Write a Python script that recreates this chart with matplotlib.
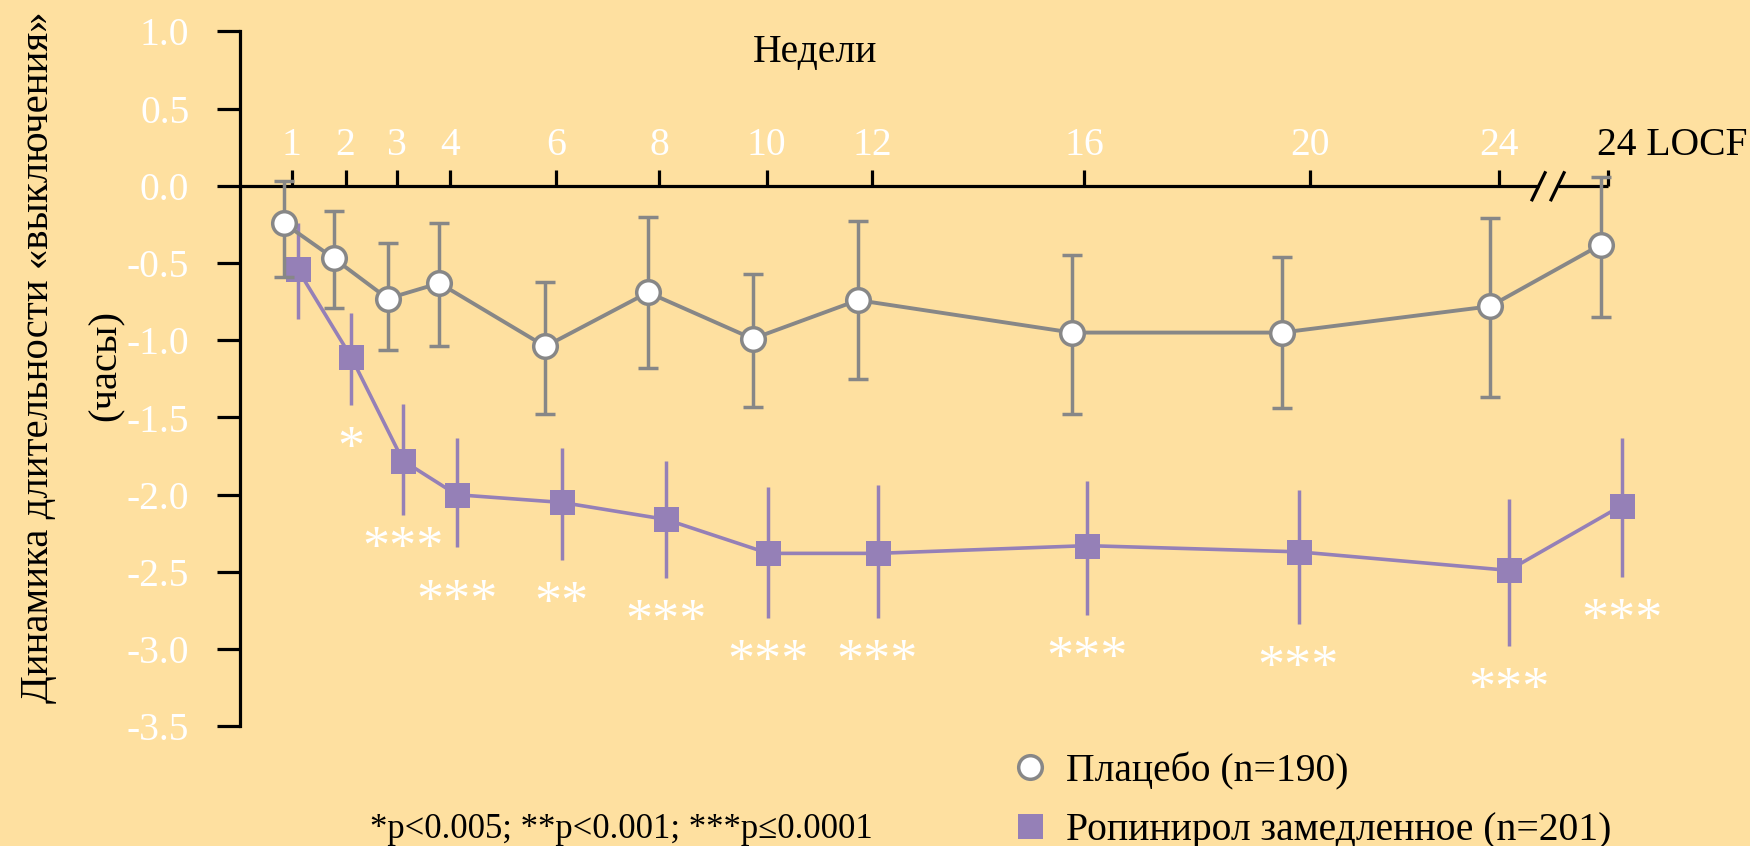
import numpy as np
import matplotlib
matplotlib.use("Agg")
import matplotlib.pyplot as plt
from matplotlib.lines import Line2D

# ---------------- data ----------------
week_labels = ['1', '2', '3', '4', '6', '8', '10', '12', '16', '20', '24', '24 LOCF']
# positions of the week ticks along the (non-linear) x axis
tick_pos = [291.6, 345.6, 396.9, 449.7, 555.7, 659, 766.5, 872, 1084, 1310, 1499, 1608]

placebo_x = [283.6, 334, 387.7, 439.3, 545.3, 648, 752.7, 858, 1072, 1281.7, 1490, 1601]
placebo_mean = [-0.24, -0.47, -0.73, -0.63, -1.04, -0.69, -0.99, -0.74, -0.95, -0.95, -0.78, -0.38]
placebo_hi = [0.03, -0.16, -0.37, -0.24, -0.62, -0.20, -0.57, -0.23, -0.45, -0.46, -0.21, 0.06]
placebo_lo = [-0.59, -0.79, -1.06, -1.04, -1.48, -1.18, -1.43, -1.25, -1.48, -1.44, -1.37, -0.85]

rop_x = [297.7, 351.3, 403, 456.6, 561.8, 665.8, 768.4, 877.5, 1087, 1298.5, 1508.6, 1621.9]
rop_mean = [-0.54, -1.11, -1.78, -2.00, -2.05, -2.16, -2.38, -2.38, -2.33, -2.37, -2.49, -2.07]
rop_hi = [-0.24, -0.82, -1.41, -1.63, -1.70, -1.78, -1.95, -1.94, -1.91, -1.97, -2.03, -1.63]
rop_lo = [-0.86, -1.42, -2.13, -2.34, -2.42, -2.54, -2.80, -2.80, -2.78, -2.84, -2.98, -2.53]
signif = ['', '*', '***', '***', '**', '***', '***', '***', '***', '***', '***', '***']

y_ticks = [1.0, 0.5, 0.0, -0.5, -1.0, -1.5, -2.0, -2.5, -3.0, -3.5]

placebo_label = 'Плацебо (n=190)'
rop_label = 'Ропинирол замедленное (n=201)'
ylabel_1 = 'Динамика длительности «выключения»'
ylabel_2 = '(часы)'
xlabel = 'Недели'
footnote = '*p<0.005; **p<0.001; ***p≤0.0001'

# ---------------- style ----------------
BG = '#FEE0A0'
GREY = '#878787'
PURPLE = '#9580B7'
plt.rcParams['font.family'] = ['Liberation Serif', 'DejaVu Serif']
plt.rcParams['axes.unicode_minus'] = False

W, H = 1750, 846
DPI = 100
fig = plt.figure(figsize=(W / DPI, H / DPI), dpi=DPI, facecolor=BG)
ax = fig.add_axes([0, 0, 1, 1])
ax.set_facecolor(BG)
ax.set_xlim(0, W)
ax.set_ylim((185.9 - H) / 154.4, 185.9 / 154.4)

# y axis
for s in ['right', 'bottom']:
    ax.spines[s].set_visible(False)
ax.spines['left'].set_position(('data', 240))
ax.spines['left'].set_bounds(min(y_ticks), max(y_ticks))
ax.spines['left'].set_linewidth(2.3)
ax.set_yticks(y_ticks)
ax.set_yticklabels([f'{v:.1f}' for v in y_ticks])
ax.tick_params(axis='y', direction='out', length=16.5, width=2.3, pad=20,
               labelsize=28.5, labelcolor='white', color='black')

# x axis on y=0, ticks and labels above
ax.spines['top'].set_position(('data', 0))
ax.spines['top'].set_color('none')
ax.xaxis.set_ticks_position('top')
ax.set_xticks(tick_pos)
ax.set_xticklabels(week_labels[:-1] + [''])
ax.tick_params(axis='x', which='both', bottom=False, top=True, labelbottom=False,
               labeltop=True, direction='out', length=11.5, width=2.3, pad=4,
               labelsize=28.5, labelcolor='white', color='black')

# axis line with a break between week 24 and LOCF
brk = tick_pos[-2] + 0.45 * (tick_pos[-1] - tick_pos[-2])
gap = 9.5
ax.plot([240, brk - gap], [0, 0], color='black', lw=2.3, solid_capstyle='butt', zorder=2)
ax.plot([brk + gap, tick_pos[-1]], [0, 0], color='black', lw=2.3, solid_capstyle='butt', zorder=2)
for c in (brk - gap, brk + gap):
    ax.plot([c - 6.5, c + 6.5], [-0.09, 0.085], color='black', lw=2.3, zorder=2)

ax.annotate(week_labels[-1], xy=(tick_pos[-1], 0), xytext=(-8, 22),
            textcoords='offset points', ha='left', va='baseline',
            fontsize=28.5, color='black')

# series
rop_err = [np.array(rop_mean) - np.array(rop_lo), np.array(rop_hi) - np.array(rop_mean)]
ax.errorbar(rop_x, rop_mean, yerr=rop_err, fmt='-s', color=PURPLE, ms=18,
            mfc=PURPLE, mec=PURPLE, mew=0, lw=2.6, elinewidth=2.5,
            capsize=7, capthick=2.5, zorder=3)
pl_err = [np.array(placebo_mean) - np.array(placebo_lo), np.array(placebo_hi) - np.array(placebo_mean)]
ax.errorbar(placebo_x, placebo_mean, yerr=pl_err, fmt='-o', color=GREY, ms=17,
            mfc='white', mec=GREY, mew=2.5, lw=2.8, elinewidth=2.5,
            capsize=7, capthick=2.5, zorder=4)

# significance stars below each error bar; neighbouring labels that would
# collide are spread apart vertically
STAR_FS = 39
base_off = 31.0          # px below the lower cap
min_sep = 53.0           # px vertical separation for horizontally close labels
em = STAR_FS * DPI / 72.0
items = []
for x, lo, s in zip(rop_x, rop_lo, signif):
    if s:
        px, py = ax.transData.transform((x, lo))
        items.append({'x': x, 'lo': lo, 's': s, 'px': px, 'off': base_off,
                      'cy': py - base_off, 'hw': 0.5 * em * 0.5 * len(s)})
for a, b in zip(items[:-1], items[1:]):
    if abs(b['px'] - a['px']) < a['hw'] + b['hw']:
        sep = a['cy'] - b['cy']  # display y grows upwards
        if abs(sep) < min_sep:
            d = (min_sep - abs(sep)) / 2.0
            if sep >= 0:
                a['off'] -= d
                b['off'] += d
            else:
                a['off'] += d
                b['off'] -= d
for it in items:
    # glyph centre of '*' sits roughly 0.5 em above the baseline
    off_pt = -(it['off'] + 0.5 * em) * 72.0 / DPI
    ax.annotate(it['s'], xy=(it['x'], it['lo']), xytext=(0, off_pt),
                textcoords='offset points', ha='center', va='baseline',
                fontsize=STAR_FS, color='white', zorder=5)

# texts
fig.text(815 / W, 1 - 53 / H, xlabel, ha='center', va='center', fontsize=28.5, color='black')
fig.text(39 / W, 1 - 357 / H, ylabel_1, rotation=90, ha='center', va='center',
         fontsize=29.3, color='black')
fig.text(106 / W, 1 - 365 / H, ylabel_2, rotation=90, ha='center', va='center',
         fontsize=29.3, color='black')
fig.text(621 / W, 1 - 829 / H, footnote, ha='center', va='center', fontsize=25, color='black')

handles = [
    Line2D([], [], ls='none', marker='o', ms=17, mfc='white', mec=GREY, mew=2.5),
    Line2D([], [], ls='none', marker='s', ms=18, mfc=PURPLE, mec=PURPLE, mew=0),
]
fig.legend(handles, [placebo_label, rop_label], loc='upper left',
           bbox_to_anchor=(1010 / W, 1 - 752 / H), frameon=False, fontsize=28.5,
           handlelength=1.0, handletextpad=0.42, labelspacing=0.56,
           borderpad=0, borderaxespad=0)

fig.savefig('out.png', dpi=DPI, facecolor=BG)
